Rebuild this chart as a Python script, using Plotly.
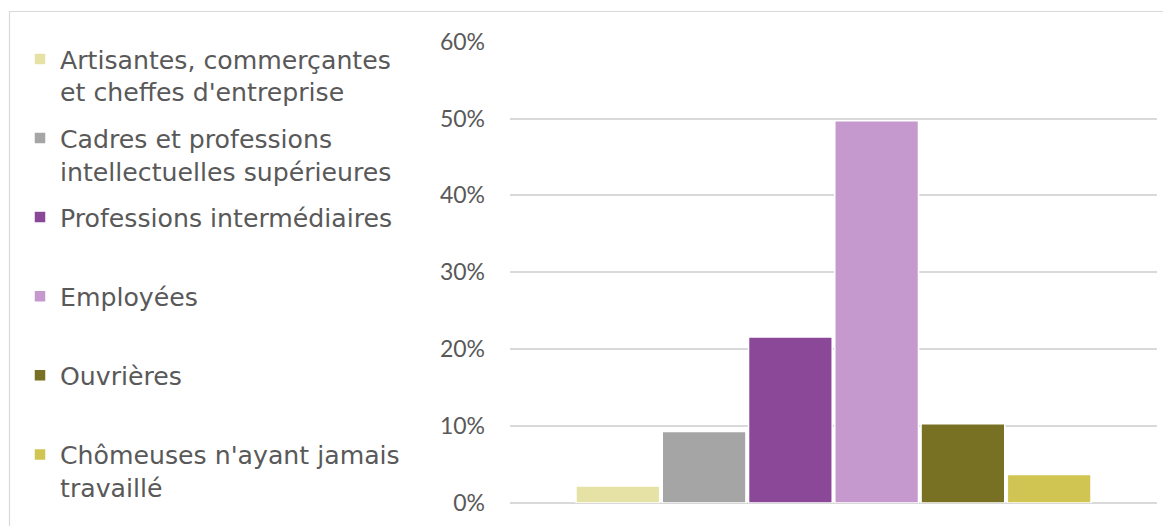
import plotly.graph_objects as go

categories = ["Artisantes, commerçantes<br>et cheffes d'entreprise",
              "Cadres et professions<br>intellectuelles supérieures",
              "Professions intermédiaires<br>\u00a0",
              "Employées<br>\u00a0",
              "Ouvrières<br>\u00a0",
              "Chômeuses n'ayant jamais<br>travaillé"]
values = [0.022, 0.093, 0.216, 0.497, 0.103, 0.037]
colors = ["#E6E2A6", "#A5A5A5", "#8B4898", "#C699CE", "#787023", "#D0C553"]
group = ["Femmes"]
tick_vals = [0, 0.1, 0.2, 0.3, 0.4, 0.5, 0.6]
tick_text = ["0%", "10%", "20%", "30%", "40%", "50%", "60%"]

W, H = 1171, 526
L, R, T, B = 502, 22, 33, 31
pw, ph = W - L - R, H - T - B

fig = go.Figure()
for i, (name, v, c) in enumerate(zip(categories, values, colors)):
    fig.add_trace(go.Bar(
        x=group, y=[v], name=name, legendgroup=f"g{i}",
        marker=dict(color=c, line=dict(color="white", width=1.5)),
        hoverinfo="name+y",
    ))

def px_x(p):
    return (p - L) / pw

def px_y(p):
    return (H - B - p) / ph

fig.update_layout(
    width=W, height=H,
    margin=dict(l=L, r=R, t=T, b=B),
    paper_bgcolor="white", plot_bgcolor="white",
    barmode="group", bargap=0.2, bargroupgap=0.03,
    showlegend=True,
    legend=dict(
        x=px_x(12), y=px_y(28), xanchor="left", yanchor="top",
        font=dict(family="DejaVu Sans", size=25.2, color="#595959"),
        valign="top", tracegroupgap=10.6, itemwidth=30,
        bgcolor="rgba(0,0,0,0)", maxheight=1,
    ),
    xaxis=dict(showticklabels=False, showgrid=False, zeroline=False,
               showline=False, ticks=""),
    yaxis=dict(range=[0, 0.6008], tickvals=tick_vals, ticktext=tick_text,
               showgrid=True, gridcolor="#D9D9D9", gridwidth=1.5,
               zeroline=True, zerolinecolor="#D9D9D9", zerolinewidth=1.5,
               showline=False, ticks="", ticklabelstandoff=24,
               tickfont=dict(family="Lato", size=23, color="#595959")),
    shapes=[dict(type="rect", xref="paper", yref="paper",
                 x0=px_x(1.5), x1=px_x(1162.5), y0=px_y(540), y1=px_y(3.5),
                 line=dict(color="#D9D9D9", width=1.2), fillcolor="rgba(0,0,0,0)",
                 layer="below")],
)

fig.write_html("out.html")
